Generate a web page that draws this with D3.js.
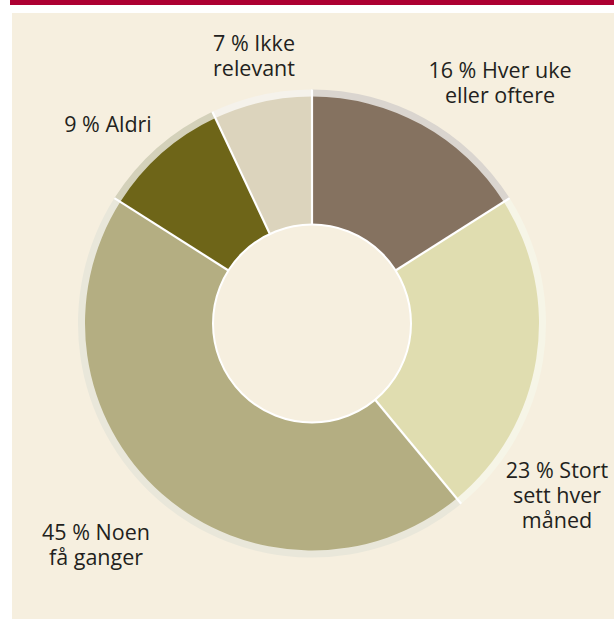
<!DOCTYPE html>
<html>
<head>
<meta charset="utf-8">
<script src="https://cdn.jsdelivr.net/npm/d3@7"></script>
<style>
body { margin: 0; background: #fff; }
svg { display: block; }
</style>
</head>
<body>
<svg></svg>
<script>
// Data
const categories = ["Hver uke eller oftere", "Stort sett hver måned", "Noen få ganger", "Aldri", "Ikke relevant"];
const values = [16, 23, 45, 9, 7];
const colors = ["#857260", "#e0ddb0", "#b4ae82", "#6e6518", "#dcd4bd"];
// label lines per slice
const labelLines = [
  ["16 % Hver uke", "eller oftere"],
  ["23 % Stort", "sett hver", "måned"],
  ["45 % Noen", "få ganger"],
  ["9 % Aldri"],
  ["7 % Ikke", "relevant"]
];
const labelPos = [[500, 78], [557, 478], [96, 540], [108, 132], [254, 51]];

const width = 614;
const height = 619;

const svg = d3.select("svg")
.attr("width", width)
.attr("height", height);

// top red bar and panel
svg.append("rect").attr("x", 10).attr("y", 0).attr("width", width - 10).attr("height", 5).attr("fill", "#ad0032");
svg.append("rect").attr("x", 12).attr("y", 13).attr("width", width - 12).attr("height", height - 13).attr("fill", "#f6efdf");

const cx = 312, cy = 323.5;
const rOuter = 227, rRing = 234, rInner = 99;

const pie = d3.pie().sort(null).value(d => d)(values);

const g = svg.append("g").attr("transform", `translate(${cx},${cy})`);

// light outer ring
const ringArc = d3.arc().innerRadius(rOuter - 2).outerRadius(rRing);
g.selectAll("path.ring")
.data(pie)
.enter()
.append("path")
.attr("class", "ring")
.attr("d", ringArc)
.attr("fill", (d, i) => d3.interpolateRgb(colors[i], "#ffffff")(0.7));

// slices
const arc = d3.arc().innerRadius(rInner).outerRadius(rOuter);
g.selectAll("path.slice")
.data(pie)
.enter()
.append("path")
.attr("class", "slice")
.attr("d", arc)
.attr("fill", (d, i) => colors[i]);

// white separators through slice and ring
g.selectAll("line.sep")
.data(pie)
.enter()
.append("line")
.attr("class", "sep")
.attr("x1", d => d3.pointRadial(d.startAngle, rInner)[0])
.attr("y1", d => d3.pointRadial(d.startAngle, rInner)[1])
.attr("x2", d => d3.pointRadial(d.startAngle, rRing)[0])
.attr("y2", d => d3.pointRadial(d.startAngle, rRing)[1])
.attr("stroke", "#fff")
.attr("stroke-width", 2.2);

// inner hole
g.append("circle").attr("r", rInner).attr("fill", "#f6efdf").attr("stroke", "#fff").attr("stroke-width", 2);

// labels
const lineH = 25;
labelLines.forEach((lines, i) => {
  const t = svg.append("text")
  .attr("x", labelPos[i][0])
  .attr("y", labelPos[i][1])
  .attr("text-anchor", "middle")
  .attr("font-family", "'Open Sans', sans-serif")
  .attr("font-size", 21.5)
  .attr("fill", "#231f20");
  lines.forEach((l, j) => {
    t.append("tspan").attr("x", labelPos[i][0]).attr("dy", j === 0 ? 0 : lineH).text(l);
  });
});
</script>
</body>
</html>
